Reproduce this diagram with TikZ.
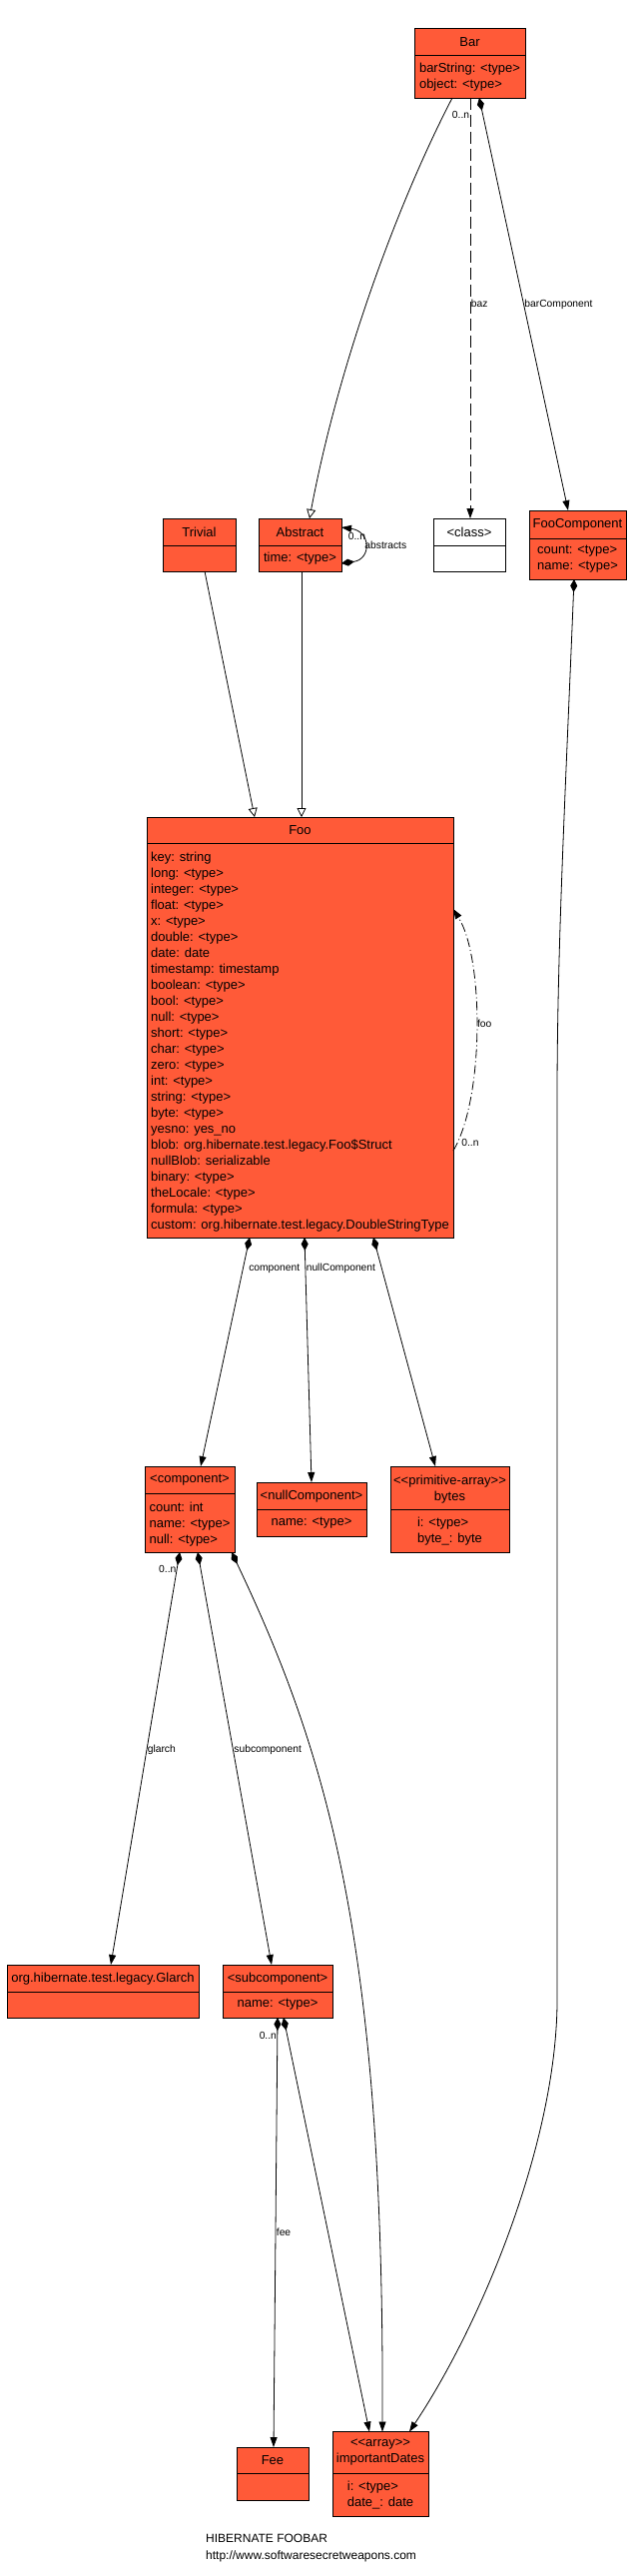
\documentclass[tikz,border=0pt]{standalone}
\usepackage{fontspec}
\setmainfont{Liberation Sans}
\usepackage{tikz}
\usetikzlibrary{arrows.meta}
\definecolor{umlred}{RGB}{255,90,56}

\begin{document}
\begin{tikzpicture}[x=1pt,y=-1pt,
  cls/.style={draw,line width=0.8pt,fill=umlred,inner sep=0pt,outer sep=0pt},
  txt/.style={font=\fontsize{13}{16}\selectfont,inner sep=0pt,align=left},
  ttl/.style={txt,align=center},
  lbl/.style={font=\fontsize{10.3}{12}\selectfont,inner sep=0.5pt},
  compose/.style={line width=0.8pt,{Diamond[length=13pt,width=7pt]}-{Triangle[length=10pt,width=7pt]}},
  assoc/.style={line width=0.8pt,-{Triangle[length=10pt,width=7pt]}},
  inherit/.style={line width=0.8pt,-{Triangle[open,length=9pt,width=9pt,fill=white]}}]
\path[use as bounding box,fill=white] (0,0) rectangle (633,2579);

% classes
\node[cls,minimum width=111pt,minimum height=70pt] (bar) at (470.5,63) {};
\draw[line width=0.8pt] (bar.north west) ++(0,27.5) -- ++(111,0);
\node[ttl] (bar-t) at (470.5,42) {Bar};
\node[txt] (bar-a) at (470.5,77) {barString: <type>\\object: <type>};

\node[cls,minimum width=73pt,minimum height=53pt] (trivial) at (199.5,545.5) {};
\draw[line width=0.8pt] (trivial.north west) ++(0,27.5) -- ++(73,0);
\node[ttl] (trivial-t) at (199.5,533) {Trivial};

\node[cls,minimum width=83pt,minimum height=53pt] (abstract) at (300.5,545.5) {};
\draw[line width=0.8pt] (abstract.north west) ++(0,27.5) -- ++(83,0);
\node[ttl] (abstract-t) at (300.5,533) {Abstract};
\node[txt] (abstract-a) at (300.5,559.5) {time: <type>};

\node[cls,fill=white,minimum width=72pt,minimum height=53pt] (class) at (470,545.5) {};
\draw[line width=0.8pt] (class.north west) ++(0,27.5) -- ++(72,0);
\node[ttl] (class-t) at (470,533) {<class>};

\node[cls,minimum width=97pt,minimum height=69pt] (foocomp) at (578.5,545.5) {};
\draw[line width=0.8pt] (foocomp.north west) ++(0,28) -- ++(97,0);
\node[ttl] (foocomp-t) at (578.5,525) {FooComponent};
\node[txt] (foocomp-a) at (578.5,559.5) {count: <type>\\name: <type>};

\node[cls,minimum width=307pt,minimum height=421pt] (foo) at (300.5,1028.5) {};
\draw[line width=0.8pt] (foo.north west) ++(0,26) -- ++(307,0);
\node[ttl] (foo-t) at (300.5,831) {Foo};
\node[txt] (foo-a) at (300.5,1043) {key: string\\long: <type>\\integer: <type>\\float: <type>\\x: <type>\\double: <type>\\date: date\\timestamp: timestamp\\boolean: <type>\\bool: <type>\\null: <type>\\short: <type>\\char: <type>\\zero: <type>\\int: <type>\\string: <type>\\byte: <type>\\yesno: yes\_no\\blob: org.hibernate.test.legacy.Foo\$Struct\\nullBlob: serializable\\binary: <type>\\theLocale: <type>\\formula: <type>\\custom: org.hibernate.test.legacy.DoubleStringType};

\node[cls,minimum width=90pt,minimum height=86pt] (component) at (190,1511) {};
\draw[line width=0.8pt] (component.north west) ++(0,27) -- ++(90,0);
\node[ttl] (component-t) at (190,1482) {<component>};
\node[txt] (component-a) at (190,1526) {count: int\\name: <type>\\null: <type>};

\node[cls,minimum width=110pt,minimum height=54pt] (nullcomp) at (312,1511) {};
\draw[line width=0.8pt] (nullcomp.north west) ++(0,27) -- ++(110,0);
\node[ttl] (nullcomp-t) at (312,1498) {<nullComponent>};
\node[txt] (nullcomp-a) at (312,1525) {name: <type>};

\node[cls,minimum width=119pt,minimum height=86pt] (bytes) at (450.5,1511) {};
\draw[line width=0.8pt] (bytes.north west) ++(0,43) -- ++(119,0);
\node[ttl] (bytes-t) at (450.5,1491) {<{}<primitive-array>{}>\\bytes};
\node[txt] (bytes-a) at (450.5,1533.5) {i: <type>\\byte\_: byte};

\node[cls,minimum width=192pt,minimum height=53pt] (glarch) at (103,1993.5) {};
\draw[line width=0.8pt] (glarch.north west) ++(0,27.5) -- ++(192,0);
\node[ttl] (glarch-t) at (103,1981) {org.hibernate.test.legacy.Glarch};

\node[cls,minimum width=110pt,minimum height=53pt] (subcomp) at (278,1993.5) {};
\draw[line width=0.8pt] (subcomp.north west) ++(0,27.5) -- ++(110,0);
\node[ttl] (subcomp-t) at (278,1981) {<subcomponent>};
\node[txt] (subcomp-a) at (278,2007) {name: <type>};

\node[cls,minimum width=72pt,minimum height=53pt] (fee) at (273,2476.5) {};
\draw[line width=0.8pt] (fee.north west) ++(0,26) -- ++(72,0);
\node[ttl] (fee-t) at (273,2463) {Fee};

\node[cls,minimum width=96pt,minimum height=84.5pt] (dates) at (381,2476.75) {};
\draw[line width=0.8pt] (dates.north west) ++(0,41.5) -- ++(96,0);
\node[ttl] (dates-t) at (381,2455) {<{}<array>{}>\\importantDates};
\node[txt] (dates-a) at (381,2498) {i: <type>\\date\_: date};

\node[anchor=west,align=left,inner sep=0pt,font=\fontsize{12}{17}\selectfont] (footer) at (206,2551.5) {HIBERNATE FOOBAR\\http://www.softwaresecretweapons.com};

% connectors
\draw[inherit] ([xshift=-17.5pt]bar.south) .. controls (400,200) and (340,360) .. ([xshift=9.5pt]abstract.north);
\draw[assoc,dash pattern=on 12pt off 5pt] ([xshift=0.5pt]bar.south) -- node[lbl,pos=0.04,anchor=east] (baz-m) {0..n} node[lbl,pos=0.49,anchor=west] (baz-l) {baz} ([xshift=1pt]class.north);
\draw[compose] ([xshift=9.5pt]bar.south) -- node[lbl,pos=0.5,anchor=west] (barcomp-l) {barComponent} ([xshift=-9.5pt]foocomp.north);
\draw[compose] ([yshift=-18.5pt]abstract.east) .. controls (372,560) and (372,532) .. node[lbl,pos=0.5,anchor=west] (abs-l) {abstracts} node[lbl,pos=0.7,anchor=east,xshift=6pt] (abs-m) {0..n} ([yshift=17.5pt]abstract.east);
\draw[inherit] ([xshift=5.5pt]trivial.south) -- ([xshift=-45.5pt]foo.north);
\draw[inherit] ([xshift=1.5pt]abstract.south) -- ([xshift=1.5pt]foo.north);
\draw[assoc,dash pattern=on 9pt off 3pt on 1pt off 3pt] ([yshift=-123.5pt]foo.east) .. controls (485,1100) and (485,960) .. node[lbl,pos=0.52,anchor=west] (foo-l) {foo} node[lbl,pos=0.05,anchor=west,xshift=3pt] (foo-m) {0..n} ([yshift=118.5pt]foo.east);
\draw[compose] ([xshift=-50.5pt]foo.south) -- node[lbl,pos=0.135,anchor=west,xshift=5pt] (component-l) {component} ([xshift=11pt]component.north);
\draw[compose] ([xshift=4.5pt]foo.south) -- node[lbl,pos=0.127,anchor=west] (nullcomp-l) {nullComponent} (nullcomp.north);
\draw[compose] ([xshift=73.5pt]foo.south) -- ([xshift=-14.5pt]bytes.north);
\draw[compose] ([xshift=-10pt]component.south) -- node[lbl,pos=0.04,anchor=east] (glarch-m) {0..n} node[lbl,pos=0.48,anchor=west] (glarch-l) {glarch} ([xshift=8pt]glarch.north);
\draw[compose] ([xshift=8pt]component.south) -- node[lbl,pos=0.48,anchor=west] (subcomp-l) {subcomponent} ([xshift=-6pt]subcomp.north);
\draw[compose] ([xshift=42pt]component.south) .. controls (330,1760) and (385,1950) .. ([xshift=2pt]dates.north);
\draw[compose] (subcomp.south) -- node[lbl,pos=0.042,anchor=east] (fee-m) {0..n} node[lbl,pos=0.5,anchor=west] (fee-l) {fee} ([xshift=1pt]fee.north);
\draw[compose] ([xshift=6pt]subcomp.south) -- ([xshift=-11pt]dates.north);
\draw[compose] ([xshift=-3.5pt]foocomp.south) .. controls (566,800) and (558,950) .. (558,1100) -- (558,2007) .. controls (556,2150) and (480,2330) .. ([xshift=29pt]dates.north);
\end{tikzpicture}
\end{document}
